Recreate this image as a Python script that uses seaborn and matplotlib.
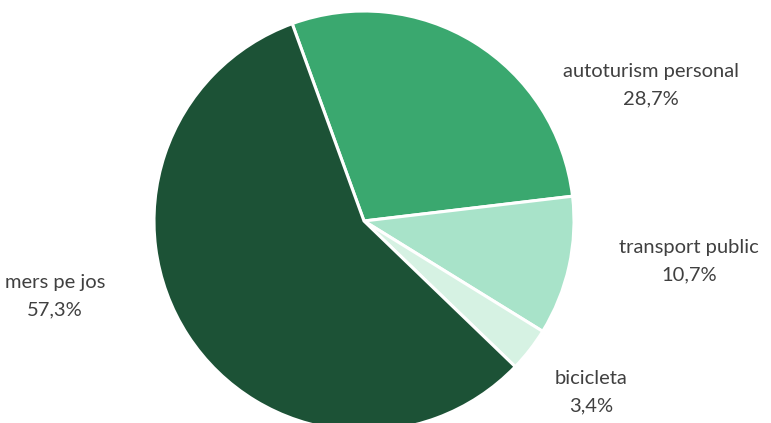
import matplotlib
matplotlib.use('Agg')
import matplotlib.pyplot as plt
import seaborn as sns

# share of trips by mode (clockwise from the top-left boundary)
modes = ['autoturism personal', 'transport public', 'bicicleta', 'mers pe jos']
shares = [28.7, 10.7, 3.4, 57.3]
colors = ['#3AA86F', '#A8E3C9', '#D6F2E3', '#1C5236']

# label anchor points in pixels (figure is 771x423)
label_pos = {
    'autoturism personal': (651, 85),
    'transport public': (689, 261),
    'bicicleta': (591, 392),
    'mers pe jos': (55, 296),
}

sns.set_theme(style='white')
plt.rcParams['font.family'] = ['Lato', 'DejaVu Sans']

W, H = 771, 423
fig = plt.figure(figsize=(W / 100, H / 100), dpi=100)
cx, cy, r = 364, 221, 210
ax = fig.add_axes([(cx - r) / W, (H - cy - r) / H, 2 * r / W, 2 * r / H])
ax.pie(shares, colors=colors, startangle=110, counterclock=False,
       radius=1, wedgeprops={'edgecolor': 'white', 'linewidth': 2.2})
ax.set_xlim(-1, 1)
ax.set_ylim(-1, 1)
ax.set_aspect('auto')
ax.axis('off')

for mode, val in zip(modes, shares):
    x, y = label_pos[mode]
    txt = f"{mode}\n{val:.1f}%".replace('.', ',')
    fig.text(x / W, 1 - y / H, txt, ha='center', va='center',
             fontsize=14.5, color='#404040', linespacing=1.75)

fig.savefig('out.png', dpi=100)
